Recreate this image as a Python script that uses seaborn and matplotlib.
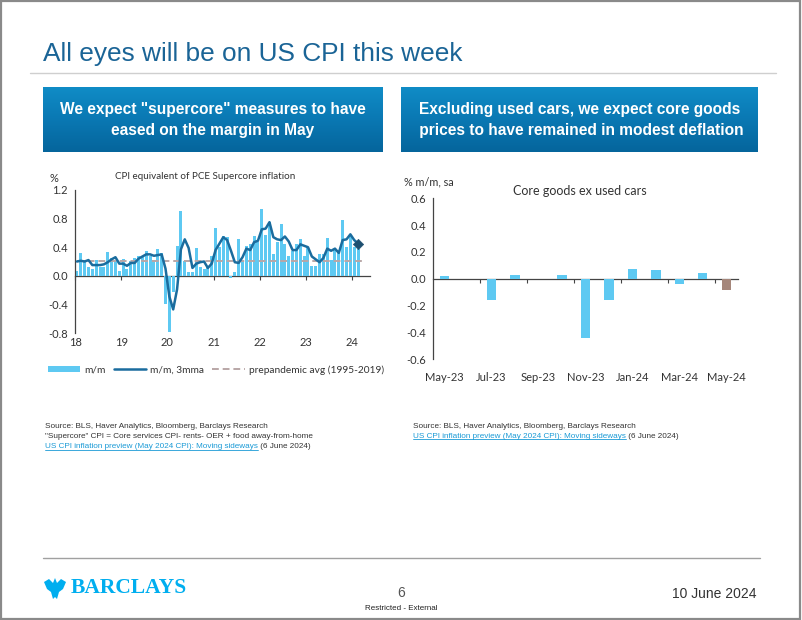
import matplotlib
matplotlib.use("Agg")
import matplotlib.pyplot as plt
import numpy as np
import pandas as pd
import seaborn as sns
from matplotlib import font_manager
from matplotlib.lines import Line2D
from matplotlib.patches import Rectangle, Polygon
from matplotlib.colors import LinearSegmentedColormap

# ---------------- data ----------------
year_labels = ["18", "19", "20", "21", "22", "23", "24"]
supercore_mm = [0.07, 0.32, 0.22, 0.13, 0.10, 0.22, 0.13, 0.12, 0.33, 0.25, 0.20, 0.07,
                0.24, 0.10, 0.20, 0.25, 0.27, 0.28, 0.34, 0.28, 0.22, 0.37, 0.32, -0.40,
                -0.78, -0.22, 0.42, 0.91, 0.20, 0.06, 0.06, 0.39, 0.12, 0.10, 0.12, 0.28,
                0.67, 0.40, 0.55, 0.54, -0.03, 0.06, 0.52, 0.20, 0.42, 0.45, 0.55, 0.47,
                0.94, 0.57, 0.75, 0.30, 0.47, 0.73, 0.45, 0.27, 0.35, 0.45, 0.52, 0.28,
                0.40, 0.14, 0.14, 0.30, 0.30, 0.53, 0.22, 0.38, 0.35, 0.78, 0.40, 0.55, 0.40, 0.37]
supercore_3mma = [0.20, 0.21, 0.20, 0.22, 0.15, 0.15, 0.15, 0.16, 0.19, 0.23, 0.26, 0.17,
                  0.17, 0.14, 0.18, 0.18, 0.24, 0.27, 0.30, 0.30, 0.28, 0.29, 0.30, 0.10,
                  -0.29, -0.47, -0.19, 0.37, 0.51, 0.39, 0.11, 0.17, 0.19, 0.20, 0.11, 0.17,
                  0.36, 0.45, 0.54, 0.50, 0.35, 0.19, 0.18, 0.26, 0.38, 0.36, 0.47, 0.49,
                  0.65, 0.66, 0.75, 0.54, 0.51, 0.50, 0.55, 0.48, 0.36, 0.36, 0.44, 0.42,
                  0.40, 0.27, 0.23, 0.19, 0.25, 0.38, 0.35, 0.38, 0.32, 0.50, 0.51, 0.58, 0.50, 0.45]
forecast_3mma = 0.45
prepandemic_avg = 0.20
left_yticks = [-0.8, -0.4, 0.0, 0.4, 0.8, 1.2]

goods_months = ["May-23", "Jun-23", "Jul-23", "Aug-23", "Sep-23", "Oct-23", "Nov-23",
                "Dec-23", "Jan-24", "Feb-24", "Mar-24", "Apr-24", "May-24"]
goods_values = [0.02, -0.005, -0.16, 0.03, -0.005, 0.025, -0.44, -0.155, 0.075, 0.065,
                -0.04, 0.04, -0.08]
goods_type = ["actual"] * 12 + ["forecast"]
right_yticks = [-0.6, -0.4, -0.2, 0.0, 0.2, 0.4, 0.6]

# ---------------- style ----------------
sns.set_style("white")
names = {f.name for f in font_manager.fontManager.ttflist}
NARROW = "Liberation Sans Narrow" if "Liberation Sans Narrow" in names else "Liberation Sans"
plt.rcParams["font.family"] = ["Liberation Sans", "DejaVu Sans"]
CHART_FONT = ["Lato", "DejaVu Sans"]

W, H = 802, 620
fx = lambda x: x / W
fy = lambda y: 1 - y / H

BAR = "#5ec9f2"
LINE = "#1a6c9e"
DIAM = "#1d4f70"
DASH = "#b9a7a7"
FCST = "#a5867a"
TXT = "#333333"

fig = plt.figure(figsize=(W / 100, H / 100), dpi=100)
fig.patch.set_facecolor("white")

# slide border and rules
fig.add_artist(Rectangle((0.001, 0.001), 0.997, 0.997, transform=fig.transFigure,
                         fill=False, edgecolor="#8a8a8a", lw=1.6))
fig.add_artist(Line2D([fx(30), fx(776)], [fy(73), fy(73)], color="#cfcfcf", lw=1.0))
fig.add_artist(Line2D([fx(43), fx(760)], [fy(558), fy(558)], color="#a0a0a0", lw=1.0))

# title
fig.text(fx(43), fy(54), "All eyes will be on US CPI this week", fontsize=18.9,
         color="#1a6496", va="center", ha="left")

# header boxes
grad = LinearSegmentedColormap.from_list("g", ["#108cc6", "#0a78b3", "#05659c"])
HDR = 11.2
for (x0, x1, lines) in [(43, 383, ["We expect \"supercore\" measures to have",
                                    "eased on the margin in May"]),
                         (401, 758, ["Excluding used cars, we expect core goods",
                                     " prices to have remained in modest deflation"])]:
    bax = fig.add_axes([fx(x0), fy(152), fx(x1) - fx(x0), (152 - 87) / H])
    bax.imshow(np.linspace(0, 1, 100).reshape(-1, 1), aspect="auto", cmap=grad,
               extent=[0, 1, 0, 1], origin="upper")
    bax.set_axis_off()
    bax.text(0.5, 0.66, lines[0], color="white", fontsize=HDR, fontweight="bold",
             ha="center", va="center", family=[NARROW, "Liberation Sans"])
    bax.text(0.5, 0.33, lines[1], color="white", fontsize=HDR, fontweight="bold",
             ha="center", va="center", family=[NARROW, "Liberation Sans"])

# ---------------- left chart ----------------
axL = fig.add_axes([fx(75), fy(333), fx(370) - fx(75), (333 - 190) / H])
pos = np.arange(len(supercore_mm)) + 0.5
dfL = pd.DataFrame({"pos": pos, "mm": supercore_mm, "ma": supercore_3mma})
sns.barplot(data=dfL, x="pos", y="mm", native_scale=True, width=0.78, color=BAR,
            saturation=1, errorbar=None, ax=axL, label="m/m", linewidth=0)
axL.hlines(prepandemic_avg, pos[0], pos[-1] + 1.5, colors=DASH, linestyles=(0, (3.5, 2)),
           lw=1.4, label="prepandemic avg (1995-2019)", zorder=3)
sns.lineplot(data=dfL, x="pos", y="ma", color=LINE, lw=1.8, ax=axL, label="m/m, 3mma",
             zorder=4)
sns.scatterplot(x=[pos[-1]], y=[forecast_3mma], marker="D", s=28, color=DIAM,
                edgecolor=DIAM, ax=axL, zorder=5, legend=False)

axL.set_xlim(0, 76.6)
axL.set_ylim(-0.8, 1.2)
axL.set_yticks(left_yticks)
axL.set_yticklabels([f"{v:.1f}" for v in left_yticks], family=CHART_FONT, fontsize=8,
                    color=TXT)
axL.set_xticks(np.arange(0, 73, 12))
axL.set_xticklabels(year_labels, family=CHART_FONT, fontsize=8, color=TXT)
axL.tick_params(axis="x", length=0, pad=3)
axL.tick_params(axis="y", length=3, width=0.8, color="#444", direction="out", pad=2)
for s in ["top", "right", "bottom"]:
    axL.spines[s].set_visible(False)
axL.spines["left"].set_color("#444")
axL.spines["left"].set_linewidth(0.9)
axL.set_xlabel("")
axL.set_ylabel("")
secL = axL.secondary_xaxis(0.4)
secL.set_xticks(np.arange(0, 73, 12))
secL.set_xticklabels([])
secL.tick_params(length=3, width=0.8, color="#444", direction="out")
secL.spines["bottom"].set_color("#444")
secL.spines["bottom"].set_linewidth(0.9)

h, l = axL.get_legend_handles_labels()
order = [l.index("m/m"), l.index("m/m, 3mma"), l.index("prepandemic avg (1995-2019)")]
leg = axL.legend([h[i] for i in order], [l[i] for i in order], loc="center",
                 bbox_to_anchor=(fx(216), fy(370)), bbox_transform=fig.transFigure,
                 ncol=3, frameon=False, handlelength=3.2, handleheight=0.6,
                 columnspacing=0.8, handletextpad=0.4, prop={"family": CHART_FONT, "size": 7.3})
for t in leg.get_texts():
    t.set_color(TXT)

fig.text(fx(50), fy(178), "%", fontsize=8, color=TXT, family=CHART_FONT, va="center")
fig.text(fx(205), fy(177), "CPI equivalent of PCE Supercore inflation", fontsize=7.1,
         color=TXT, family=CHART_FONT, va="center", ha="center")

# ---------------- right chart ----------------
axR = fig.add_axes([fx(432.7), fy(359.3), fx(738) - fx(432.7), (359.3 - 198.3) / H])
dfR = pd.DataFrame({"month": goods_months, "value": goods_values, "type": goods_type})
sns.barplot(data=dfR, x="month", y="value", hue="type",
            palette={"actual": BAR, "forecast": FCST}, width=0.4, dodge=False,
            saturation=1, errorbar=None, ax=axR, legend=False, linewidth=0)
axR.set_xlim(-0.5, 12.5)
axR.set_ylim(-0.6, 0.6)
axR.set_yticks(right_yticks)
axR.set_yticklabels([f"{v:.1f}" for v in right_yticks], family=CHART_FONT, fontsize=8,
                    color=TXT)
axR.set_xticks(range(0, 13, 2))
axR.set_xticklabels(goods_months[::2], family=CHART_FONT, fontsize=8, color=TXT)
axR.tick_params(axis="x", length=0, pad=9)
axR.tick_params(axis="y", length=3, width=0.8, color="#444", direction="out", pad=2)
for s in ["top", "right", "bottom"]:
    axR.spines[s].set_visible(False)
axR.spines["left"].set_color("#444")
axR.spines["left"].set_linewidth(0.9)
axR.set_xlabel("")
axR.set_ylabel("")
secR = axR.secondary_xaxis(0.5)
secR.set_alignment("bottom")
secR.set_xticks(np.arange(1.5, 12, 2))
secR.set_xticklabels([])
secR.tick_params(length=3, width=0.8, color="#444", direction="out")
secR.spines["bottom"].set_color("#444")
secR.spines["bottom"].set_linewidth(0.9)

fig.text(fx(404), fy(182), "% m/m, sa", fontsize=7.8, color=TXT, family=CHART_FONT,
         va="center")
fig.text(fx(580), fy(191), "Core goods ex used cars", fontsize=9, color=TXT,
         family=CHART_FONT, va="center", ha="center")

# ---------------- sources ----------------
SRC = 5.9
LINK = "#1a9ad6"
fig.text(fx(45), fy(427), "Source: BLS, Haver Analytics, Bloomberg, Barclays Research",
         fontsize=SRC, color=TXT, va="center")
fig.text(fx(45), fy(437), "\"Supercore\" CPI = Core services CPI- rents- OER + food away-from-home",
         fontsize=SRC, color=TXT, va="center")
fig.text(fx(413), fy(427), "Source: BLS, Haver Analytics, Bloomberg, Barclays Research",
         fontsize=SRC, color=TXT, va="center")
links = []
for (x0, y0) in [(45, 447), (413, 436)]:
    t = fig.text(fx(x0), fy(y0), "US CPI inflation preview (May 2024 CPI): Moving sideways",
                 fontsize=SRC, color=LINK, va="center")
    links.append((t, y0))

# ---------------- footer ----------------
eagle = [(44, 582), (49, 579), (53, 583), (55, 578), (57, 583), (61, 579), (66, 582),
         (63, 589), (59, 592), (57, 599), (55, 597), (53, 599), (51, 592), (47, 589)]
fig.add_artist(Polygon([(fx(x), fy(y)) for x, y in eagle], closed=True,
                       transform=fig.transFigure, facecolor="#00aeef", edgecolor="none"))
fig.text(fx(71), fy(588), "BARCLAYS", fontsize=15.5, fontweight="bold", color="#00aeef",
         va="center", ha="left", family=["Liberation Serif", "DejaVu Serif"])
fig.text(fx(401), fy(593), "6", fontsize=10, color="#555555", ha="center", va="center")
fig.text(fx(401), fy(608), "Restricted - External", fontsize=5.8, color="#222222",
         ha="center", va="center", family=[NARROW, "Liberation Sans"])
fig.text(fx(757), fy(594), "10 June 2024", fontsize=10, color="#333333", ha="right",
         va="center")

fig.canvas.draw()
r = fig.canvas.get_renderer()
for t, y0 in links:
    bb = t.get_window_extent(renderer=r)
    x0f, x1f = bb.x0 / W, bb.x1 / W
    fig.add_artist(Line2D([x0f, x1f], [bb.y0 / H + 0.0005] * 2, color=LINK, lw=0.6))
    fig.text(x1f, fy(y0), " (6 June 2024)", fontsize=SRC, color=TXT, va="center")

fig.savefig("out.png", dpi=100)
